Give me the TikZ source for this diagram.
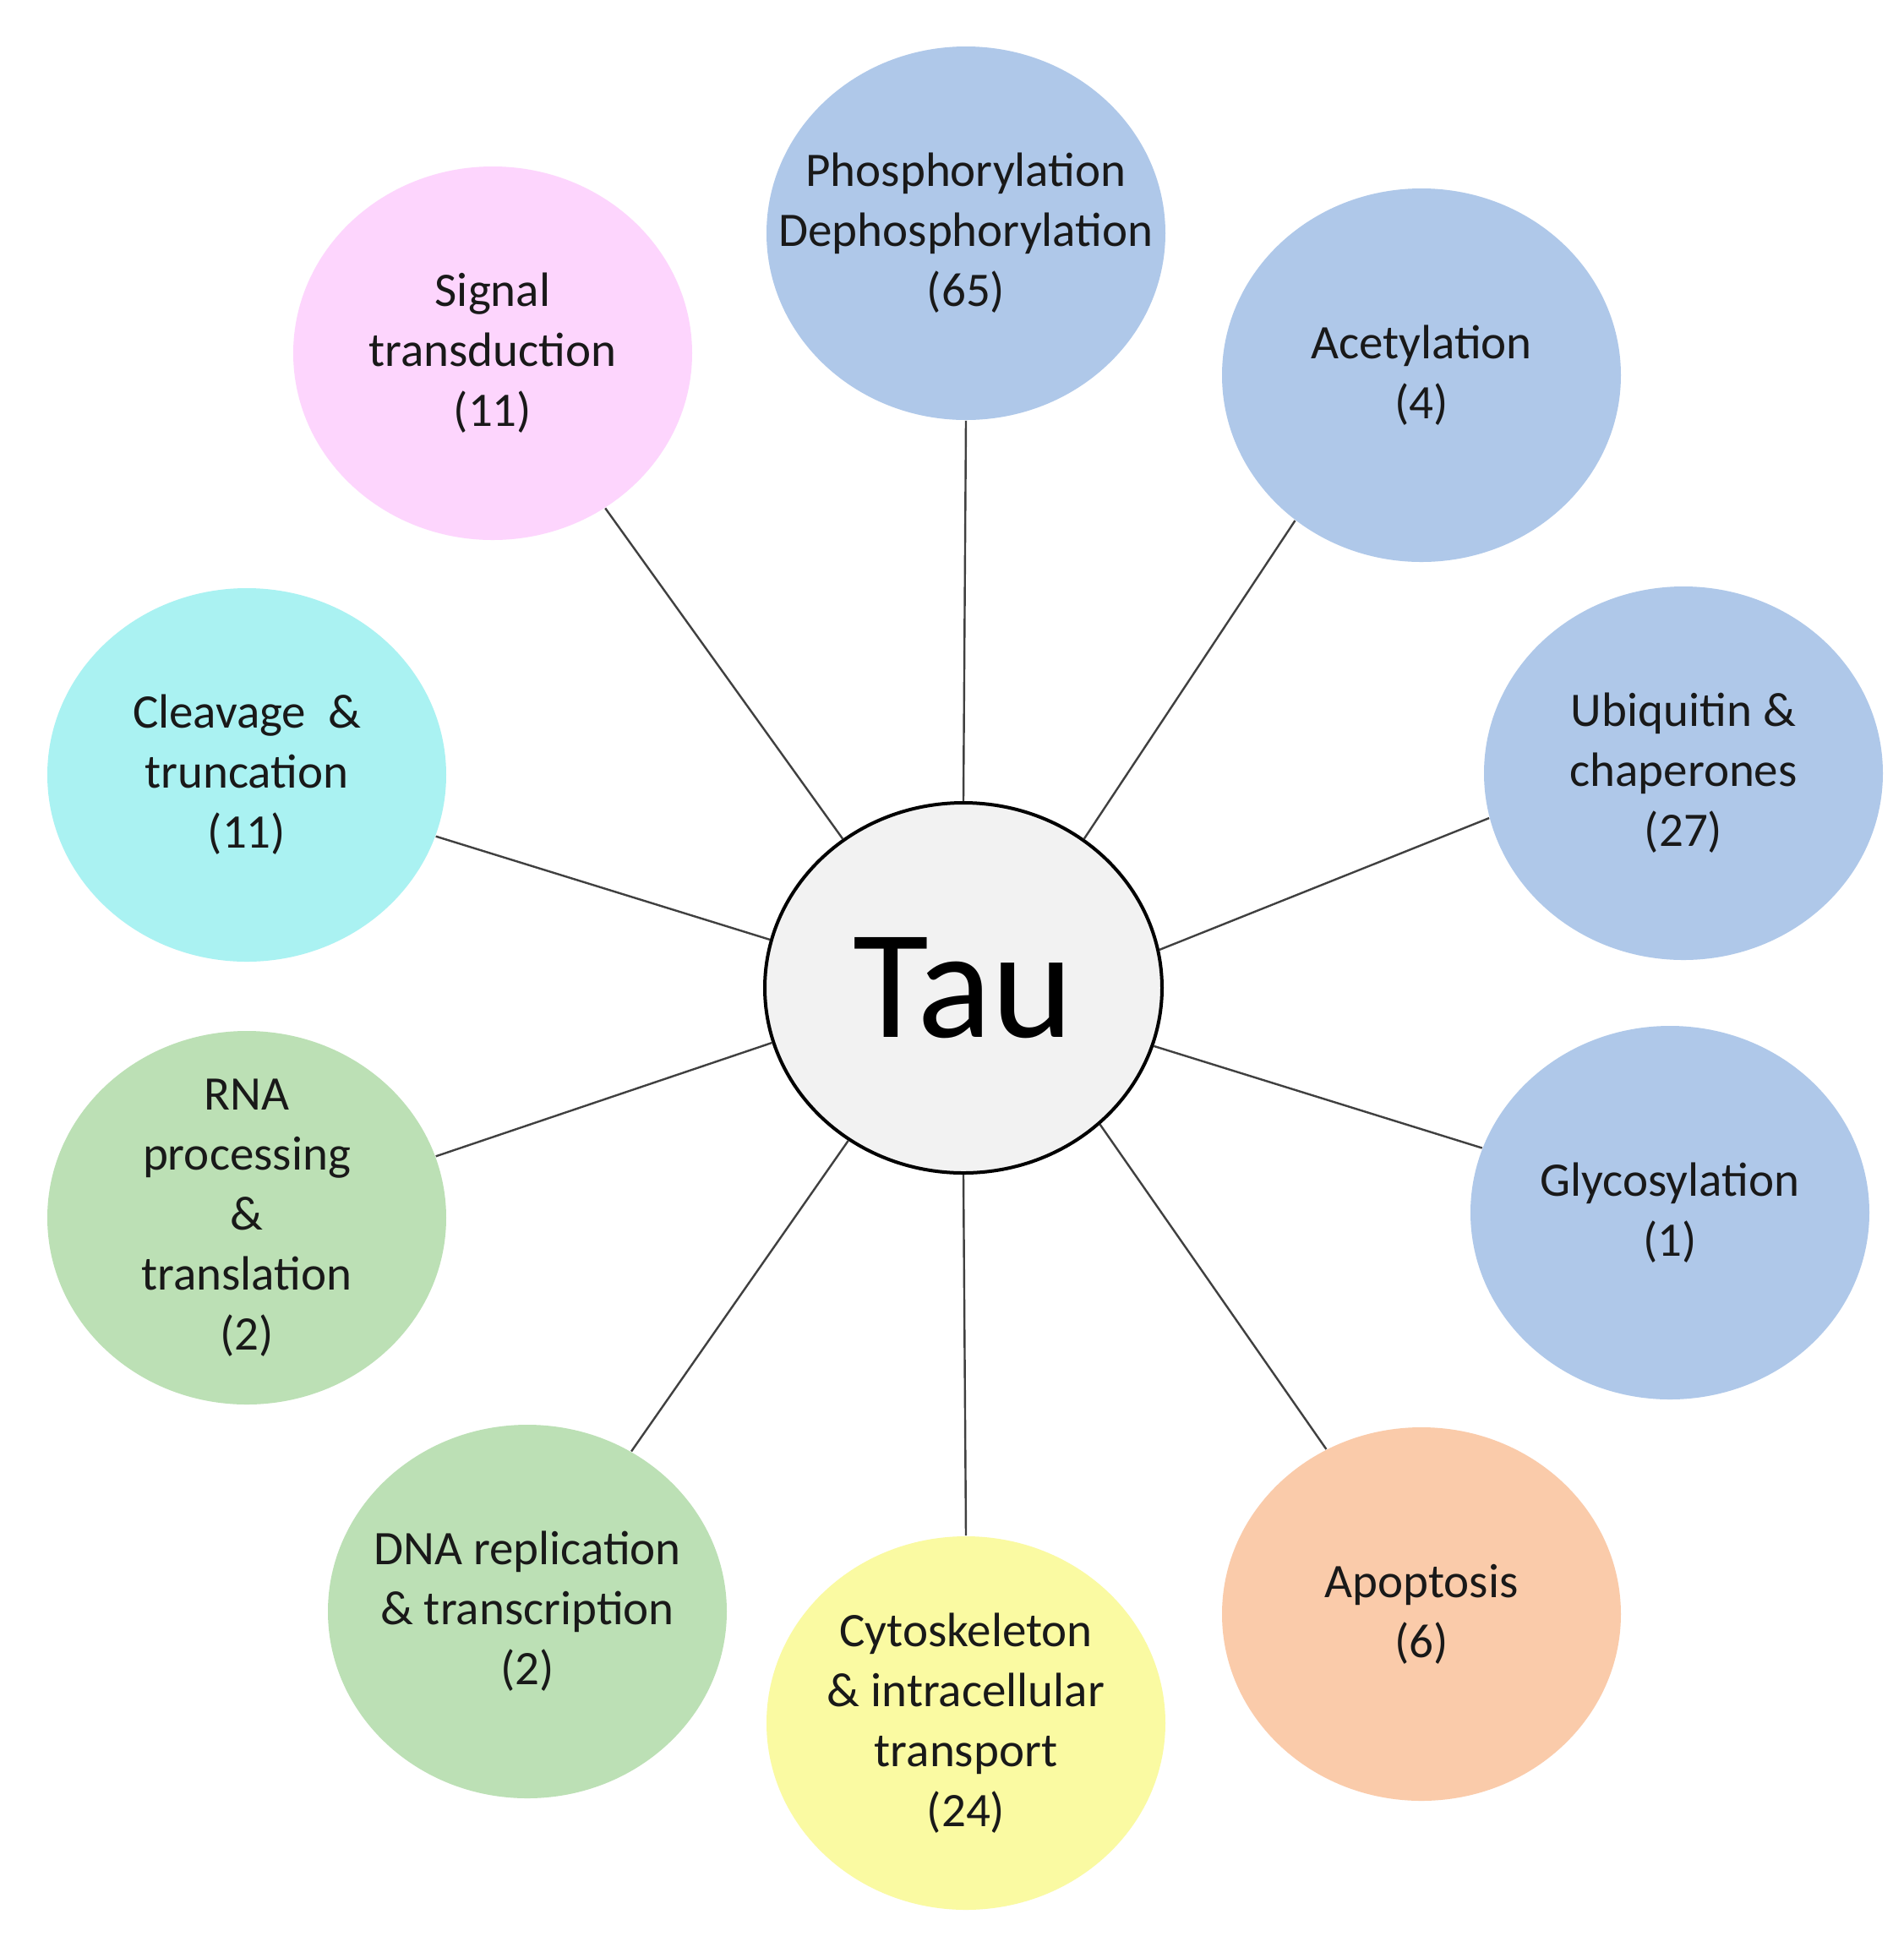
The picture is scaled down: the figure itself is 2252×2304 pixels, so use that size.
\documentclass[tikz,border=0pt]{standalone}
\usepackage{fontspec}
\setmainfont{Carlito}
\usetikzlibrary{shapes.geometric}
\definecolor{cblue}{RGB}{175,200,233}
\definecolor{cpink}{RGB}{253,213,253}
\definecolor{ccyan}{RGB}{170,242,242}
\definecolor{cgreen}{RGB}{188,224,181}
\definecolor{corange}{RGB}{250,203,170}
\definecolor{cyellow}{RGB}{250,250,162}
\definecolor{ctau}{RGB}{242,242,242}
\definecolor{cline}{RGB}{64,64,64}
\tikzset{
  bub/.style={ellipse, inner sep=0pt, minimum width=118pt, minimum height=110.5pt, draw=none},
  txt/.style={align=center, inner sep=0pt, text=black!90, font=\fontsize{14.25pt}{17.75pt}\selectfont},
  taubox/.style={ellipse, inner sep=0pt, minimum width=117.5pt, minimum height=109.5pt, draw=black, line width=1pt, fill=ctau, font=\fontsize{46pt}{50pt}\selectfont},
  conn/.style={draw=cline, line width=0.6pt}
}
\begin{document}
\begin{tikzpicture}[x=0.25pt, y=-0.25pt]
\useasboundingbox (0,0) rectangle (2252,2304);
\fill[white] (0,0) rectangle (2252,2304);

% outer bubbles
\node[bub, fill=cblue]   (phos) at (1143,276)  {};
\node[bub, fill=cblue]   (acet) at (1682,444)  {};
\node[bub, fill=cblue]   (ubiq) at (1992,915)  {};
\node[bub, fill=cblue]   (glyc) at (1976,1435) {};
\node[bub, fill=corange] (apop) at (1682,1910) {};
\node[bub, fill=cyellow] (cyto) at (1143,2039) {};
\node[bub, fill=cgreen]  (dna)  at (624,1907)  {};
\node[bub, fill=cgreen]  (rna)  at (292,1441)  {};
\node[bub, fill=ccyan]   (clea) at (292,917)   {};
\node[bub, fill=cpink]   (sign) at (583,418)   {};

% center
\node[taubox] (tau) at (1140,1169) {Tau};

% labels
\node[txt] (phost) at (phos) {Phosphorylation\\Dephosphorylation\\(65)};
\node[txt] (acett) at (acet) {Acetylation\\(4)};
\node[txt] (ubiqt) at (ubiq) {Ubiquitin \&\\chaperones\\(27)};
\node[txt] (glyct) at (glyc) {Glycosylation\\(1)};
\node[txt] (apopt) at (apop) {Apoptosis\\(6)};
\node[txt] (cytot) at (cyto) {Cytoskeleton\\\& intracellular\\transport\\(24)};
\node[txt] (dnat)  at (dna)  {DNA replication\\\& transcription\\(2)};
\node[txt] (rnat)  at (rna)  {RNA\\processing\\\&\\translation\\(2)};
\node[txt] (cleat) at (clea) {Cleavage~\ \&\\truncation\\(11)};
\node[txt] (signt) at (sign) {Signal\\transduction\\(11)};

% connectors
\draw[conn] (tau.90)    -- (phos.270);
\draw[conn] (tau.51.3)  -- (acet.229.6);
\draw[conn] (tau.11)    -- (ubiq.193.7);
\draw[conn] (tau.-17)   -- (glyc.161);
\draw[conn] (tau.-45.3) -- (apop.120.7);
\draw[conn] (tau.270)   -- (cyto.90);
\draw[conn] (tau.233)   -- (dna.57);
\draw[conn] (tau.196.8) -- (rna.18.4);
\draw[conn] (tau.166)   -- (clea.-18.7);
\draw[conn] (tau.129.3) -- (sign.-54.1);
\end{tikzpicture}
\end{document}
